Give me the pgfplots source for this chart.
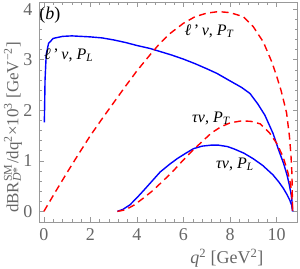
\documentclass[border=0pt]{standalone}
\usepackage{fontspec}
\setmainfont{Liberation Serif}
\usepackage{pgfplots}
\pgfplotsset{compat=1.18}
\definecolor{framegray}{gray}{0.6}
\definecolor{labgray}{gray}{0.4}
\begin{document}
\fontsize{16}{19}\selectfont
\begin{tikzpicture}
\begin{axis}[
 width=258.5pt, height=220pt, scale only axis,
 xmin=-0.21, xmax=10.9, ymin=-0.21, ymax=4.14,
 axis line style={framegray, line width=0.6pt},
 xtick={0,2,...,10}, ytick={0,1,...,4},
 minor x tick num=4, minor y tick num=4,
 tick align=inside,
 major tick length=5pt, minor tick length=3pt,
 every tick/.style={framegray, line width=0.5pt},
 every minor tick/.style={framegray, line width=0.5pt},
 tick label style={font=\fontsize{18}{21}\selectfont, text=labgray},
 xticklabel style={yshift=-1pt},
 yticklabel style={xshift=-1pt},
 /pgf/number format/assume math mode=true,
 clip=false,
]
\coordinate (sw) at (rel axis cs:0,0);
\coordinate (ne) at (rel axis cs:1,1);
% l' nu, P_L (blue)
\addplot[blue, line width=1.4pt] coordinates {
(0.02,1.76) (0.05,2.6) (0.1,3.1) (0.2,3.32) (0.4,3.42) (0.8,3.46) (1.2,3.47) (2,3.45) (2.5,3.43) (3,3.39) (3.5,3.34) (4,3.28) (4.57,3.22) (5,3.16) (5.5,3.09) (6,3.01) (6.5,2.92) (7,2.82) (7.43,2.73) (8,2.58) (8.5,2.45) (8.86,2.33) (9.2,2.12) (9.5,1.9) (9.85,1.54) (10.1,1.2) (10.3,0.95) (10.45,0.72) (10.55,0.52) (10.62,0.35) (10.66,0.22) (10.69,0)
};
% l' nu, P_T (red dashed)
\addplot[red, line width=1.4pt, dash pattern=on 7pt off 4.5pt] coordinates {
(0,0) (0.5,0.39) (1,0.77) (1.5,1.14) (2,1.5) (2.5,1.83) (3,2.15) (3.5,2.47) (4,2.78) (4.57,3.1) (5,3.33) (5.43,3.52) (6,3.72) (6.5,3.85) (7,3.92) (7.5,3.95) (8,3.93) (8.57,3.85) (9,3.65) (9.43,3.35) (9.8,2.95) (10,2.68) (10.2,2.38) (10.43,1.95) (10.55,1.5) (10.62,1.1) (10.66,0.75) (10.69,0)
};
% tau nu, P_L (blue)
\addplot[blue, line width=1.4pt] coordinates {
(3.16,0) (3.4,0.04) (3.7,0.13) (4.0,0.27) (4.3,0.42) (4.65,0.6) (5.0,0.78) (5.4,0.93) (5.72,1.04) (6.1,1.15) (6.43,1.24) (6.8,1.29) (7.2,1.31) (7.5,1.31) (7.9,1.28) (8.2,1.23) (8.6,1.15) (9.0,1.04) (9.4,0.91) (9.85,0.72) (10.1,0.58) (10.3,0.45) (10.45,0.33) (10.57,0.22) (10.65,0.12) (10.69,0)
};
% tau nu, P_T (red dashed)
\addplot[red, line width=1.4pt, dash pattern=on 7pt off 4.5pt] coordinates {
(3.16,0) (3.5,0.03) (3.86,0.12) (4.3,0.27) (4.65,0.4) (5.0,0.55) (5.5,0.77) (6.0,1.02) (6.43,1.22) (6.8,1.38) (7.2,1.55) (7.6,1.67) (8.0,1.75) (8.5,1.79) (8.9,1.78) (9.3,1.73) (9.7,1.55) (10.0,1.35) (10.28,1.08) (10.48,0.78) (10.6,0.55) (10.66,0.3) (10.69,0)
};
\node at (axis cs:1.06,3.09) {\textit{ℓ}\,'\,\textit{ν},\ \textit{P}\textsubscript{\textit{L}}};
\node at (axis cs:7.11,3.56) {\textit{ℓ}\,'\,\textit{ν},\ \textit{P}\textsubscript{\textit{T}}};
\node at (axis cs:7.19,1.84) {\textit{τν},\ \textit{P}\textsubscript{\textit{T}}};
\node at (axis cs:8.21,0.93) {\textit{τν},\ \textit{P}\textsubscript{\textit{L}}};
\node at (rel axis cs:0.042,0.94) {\fontsize{18}{21}\selectfont(\textit{b})};
\node[text=labgray, yshift=-36pt] at (rel axis cs:0.727,0) {\fontsize{18}{21}\selectfont\textit{q}\textsuperscript{2} [GeV\textsuperscript{2}]};
\node[text=labgray, xshift=-26pt, rotate=90] at (rel axis cs:0,0.43) {\fontsize{17}{20}\selectfont dBR\rlap{\textsubscript{\textit{D}*}}\textsuperscript{SM}/dq\textsuperscript{2}×10\textsuperscript{3} [GeV\textsuperscript{−2}]};
\end{axis}
\pgfresetboundingbox
\path ([shift={(-39pt,-46pt)}]sw) rectangle ([shift={(2.5pt,2pt)}]ne);
\end{tikzpicture}
\end{document}
